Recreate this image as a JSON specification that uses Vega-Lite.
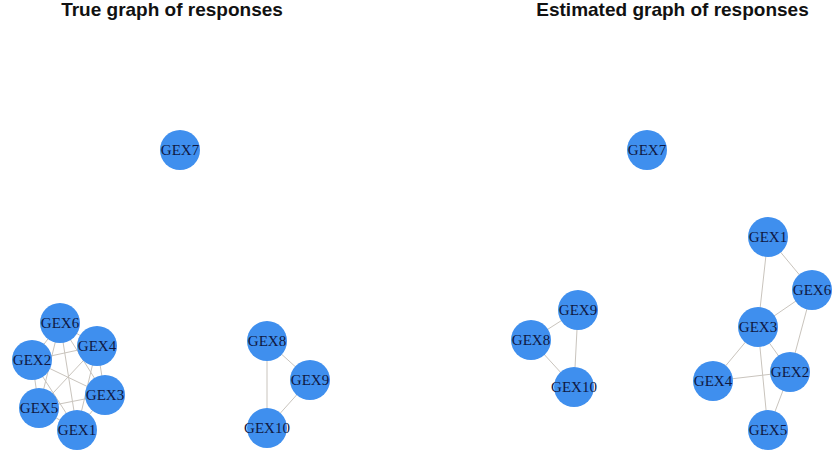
{
  "$schema": "https://vega.github.io/schema/vega-lite/v6.json",
  "width": 832,
  "height": 452,
  "autosize": {"type": "fit", "contains": "padding"},
  "padding": 0,
  "background": "white",
  "config": {"view": {"stroke": null}},
  "datasets": {
    "nodes": [
      {"id": "T:GEX1", "graph": "True", "label": "GEX1", "x": 77, "y": 430},
      {"id": "T:GEX2", "graph": "True", "label": "GEX2", "x": 32, "y": 360},
      {"id": "T:GEX3", "graph": "True", "label": "GEX3", "x": 105, "y": 395},
      {"id": "T:GEX4", "graph": "True", "label": "GEX4", "x": 97, "y": 346},
      {"id": "T:GEX5", "graph": "True", "label": "GEX5", "x": 39, "y": 408},
      {"id": "T:GEX6", "graph": "True", "label": "GEX6", "x": 60, "y": 323},
      {"id": "T:GEX7", "graph": "True", "label": "GEX7", "x": 180, "y": 150},
      {"id": "T:GEX8", "graph": "True", "label": "GEX8", "x": 267, "y": 341},
      {"id": "T:GEX9", "graph": "True", "label": "GEX9", "x": 310, "y": 380},
      {"id": "T:GEX10", "graph": "True", "label": "GEX10", "x": 267, "y": 428},
      {"id": "E:GEX1", "graph": "Estimated", "label": "GEX1", "x": 768, "y": 237},
      {"id": "E:GEX2", "graph": "Estimated", "label": "GEX2", "x": 790, "y": 372},
      {"id": "E:GEX3", "graph": "Estimated", "label": "GEX3", "x": 758, "y": 327},
      {"id": "E:GEX4", "graph": "Estimated", "label": "GEX4", "x": 713, "y": 381},
      {"id": "E:GEX5", "graph": "Estimated", "label": "GEX5", "x": 768, "y": 430},
      {"id": "E:GEX6", "graph": "Estimated", "label": "GEX6", "x": 812, "y": 290},
      {"id": "E:GEX7", "graph": "Estimated", "label": "GEX7", "x": 647, "y": 150},
      {"id": "E:GEX8", "graph": "Estimated", "label": "GEX8", "x": 531, "y": 340},
      {"id": "E:GEX9", "graph": "Estimated", "label": "GEX9", "x": 578, "y": 310},
      {"id": "E:GEX10", "graph": "Estimated", "label": "GEX10", "x": 574, "y": 387}
    ],
    "edges": [
      {"s": "T:GEX1", "t": "T:GEX2"},
      {"s": "T:GEX1", "t": "T:GEX3"},
      {"s": "T:GEX1", "t": "T:GEX4"},
      {"s": "T:GEX1", "t": "T:GEX5"},
      {"s": "T:GEX1", "t": "T:GEX6"},
      {"s": "T:GEX2", "t": "T:GEX3"},
      {"s": "T:GEX2", "t": "T:GEX4"},
      {"s": "T:GEX2", "t": "T:GEX5"},
      {"s": "T:GEX2", "t": "T:GEX6"},
      {"s": "T:GEX3", "t": "T:GEX4"},
      {"s": "T:GEX3", "t": "T:GEX5"},
      {"s": "T:GEX3", "t": "T:GEX6"},
      {"s": "T:GEX4", "t": "T:GEX5"},
      {"s": "T:GEX4", "t": "T:GEX6"},
      {"s": "T:GEX5", "t": "T:GEX6"},
      {"s": "T:GEX8", "t": "T:GEX9"},
      {"s": "T:GEX8", "t": "T:GEX10"},
      {"s": "T:GEX9", "t": "T:GEX10"},
      {"s": "E:GEX1", "t": "E:GEX3"},
      {"s": "E:GEX1", "t": "E:GEX6"},
      {"s": "E:GEX6", "t": "E:GEX3"},
      {"s": "E:GEX6", "t": "E:GEX2"},
      {"s": "E:GEX3", "t": "E:GEX4"},
      {"s": "E:GEX3", "t": "E:GEX2"},
      {"s": "E:GEX3", "t": "E:GEX5"},
      {"s": "E:GEX4", "t": "E:GEX2"},
      {"s": "E:GEX2", "t": "E:GEX5"},
      {"s": "E:GEX8", "t": "E:GEX9"},
      {"s": "E:GEX8", "t": "E:GEX10"},
      {"s": "E:GEX9", "t": "E:GEX10"}
    ],
    "titles": [
      {"text": "True graph of responses", "x": 172, "y": 16},
      {"text": "Estimated graph of responses", "x": 672.5, "y": 16}
    ]
  },
  "layer": [
    {
      "data": {"name": "edges"},
      "transform": [
        {"lookup": "s", "from": {"data": {"name": "nodes"}, "key": "id", "fields": ["x", "y"]}, "as": ["sx", "sy"]},
        {"lookup": "t", "from": {"data": {"name": "nodes"}, "key": "id", "fields": ["x", "y"]}, "as": ["tx", "ty"]}
      ],
      "mark": {"type": "rule", "color": "#c9c4bd", "strokeWidth": 1, "clip": true},
      "encoding": {
        "x": {"field": "sx", "type": "quantitative", "scale": {"domain": [0, 832]}, "axis": null},
        "y": {"field": "sy", "type": "quantitative", "scale": {"domain": [0, 452], "reverse": true}, "axis": null},
        "x2": {"field": "tx"},
        "y2": {"field": "ty"}
      }
    },
    {
      "data": {"name": "nodes"},
      "mark": {"type": "point", "shape": "circle", "filled": true, "size": 1600, "color": "#3f8fee", "opacity": 1, "clip": true},
      "encoding": {
        "x": {"field": "x", "type": "quantitative", "scale": {"domain": [0, 832]}, "axis": null},
        "y": {"field": "y", "type": "quantitative", "scale": {"domain": [0, 452], "reverse": true}, "axis": null}
      }
    },
    {
      "data": {"name": "nodes"},
      "mark": {"type": "text", "font": "Liberation Serif", "fontSize": 15, "color": "#0f1842", "align": "center", "baseline": "middle", "clip": true},
      "encoding": {
        "x": {"field": "x", "type": "quantitative", "scale": {"domain": [0, 832]}, "axis": null},
        "y": {"field": "y", "type": "quantitative", "scale": {"domain": [0, 452], "reverse": true}, "axis": null},
        "text": {"field": "label"}
      }
    },
    {
      "data": {"name": "titles"},
      "mark": {"type": "text", "font": "Liberation Sans", "fontSize": 19, "fontWeight": "bold", "color": "#111111", "align": "center", "baseline": "alphabetic", "clip": true},
      "encoding": {
        "x": {"field": "x", "type": "quantitative", "scale": {"domain": [0, 832]}, "axis": null},
        "y": {"field": "y", "type": "quantitative", "scale": {"domain": [0, 452], "reverse": true}, "axis": null},
        "text": {"field": "text"}
      }
    }
  ]
}
